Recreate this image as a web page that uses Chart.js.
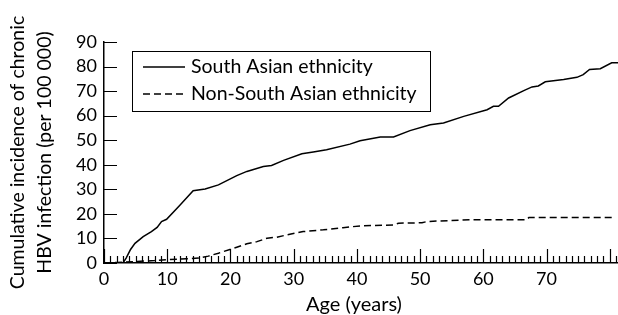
<!DOCTYPE html>
<html>
<head>
<meta charset="utf-8">
<script src="https://cdn.jsdelivr.net/npm/chart.js@4.4.1/dist/chart.umd.min.js"></script>
<style>
html,body{margin:0;padding:0;background:#fff;}
#c{display:block;}
</style>
</head>
<body>
<canvas id="c" width="618" height="315"></canvas>
<script>
// ---- data ----
const seriesLabels = ["South Asian ethnicity", "Non-South Asian ethnicity"];
const southAsianAge = [0,3,3.5,4.2,4.9,6.2,7.5,8.4,9.1,9.9,12,14.1,16,18.1,21,22.6,25.2,26.5,28.4,31.3,33.1,35.2,38.9,40.5,43.7,45.8,48.4,51.6,53.7,56.9,60.6,61.6,62.4,64,66.4,67.7,68.7,69.8,72.7,74.8,75.8,76.8,78.5,80.3,81.3];
const southAsianValue = [0,0,2,5.5,8,10.7,12.8,14.5,16.9,17.8,23.5,29.4,30.1,31.8,35.6,37.3,39.3,39.7,41.8,44.5,45.2,46.1,48.4,49.8,51.3,51.3,53.9,56.3,57,59.7,62.4,63.8,63.8,67.2,70.2,71.7,72.1,73.8,74.7,75.6,76.7,78.8,79.1,81.5,81.5];
const nonSouthAsianAge = [0,2,5,8,10,13,15,16.5,18.1,21,22.6,24.2,25.8,27.3,29.4,31.5,34.7,37.8,40.5,45.8,46.6,50.3,51.1,57.9,66.8,67.2,80.5];
const nonSouthAsianValue = [0,0.2,0.6,1,1.4,1.7,2,2.8,4,6.4,7.8,8.7,10.1,10.5,11.7,12.8,13.5,14.4,15.1,15.5,16.2,16.4,16.9,17.6,17.6,18.5,18.5];
const xTickValues = [0,10,20,30,40,50,60,70];
const yTickValues = [0,10,20,30,40,50,60,70,80,90];
const xTitle = "Age (years)";
const yTitle = ["Cumulative incidence of chronic", "HBV infection (per 100 000)"];

const FONT = "Lato, 'DejaVu Sans', sans-serif";
const toPoints = (xs, ys) => xs.map((x, i) => ({x: x, y: ys[i]}));

const tickMarks = {
  id: 'tickMarks',
  afterDraw(chart) {
    const ctx = chart.ctx, xs = chart.scales.x, ys = chart.scales.y;
    const bottom = chart.chartArea.bottom, left = chart.chartArea.left;
    ctx.save();
    ctx.strokeStyle = '#000';
    ctx.lineWidth = 1.2;
    ctx.beginPath();
    for (let v = 0; v <= Math.floor(xs.max); v++) {
      const px = Math.round(xs.getPixelForValue(v)) + 0.5;
      const len = (v % 10 === 0) ? 14 : 7;
      ctx.moveTo(px, bottom);
      ctx.lineTo(px, bottom - len);
    }
    yTickValues.forEach(v => {
      const py = Math.round(ys.getPixelForValue(v)) + 0.5;
      ctx.moveTo(left, py);
      ctx.lineTo(left + 13, py);
    });
    ctx.stroke();
    // x axis title
    ctx.font = "20px " + FONT;
    ctx.fillStyle = '#000';
    ctx.textAlign = 'center';
    ctx.textBaseline = 'middle';
    ctx.fillText(xTitle, 354, 305);
    ctx.restore();
  }
};

const boxLegend = {
  id: 'boxLegend',
  afterDraw(chart) {
    const ctx = chart.ctx;
    ctx.save();
    ctx.strokeStyle = '#000';
    ctx.lineWidth = 1;
    ctx.strokeRect(132.5, 51.5, 298, 60);
    ctx.font = "19.5px " + FONT;
    ctx.fillStyle = '#000';
    ctx.textBaseline = 'middle';
    chart.data.datasets.forEach((ds, i) => {
      const y = 67 + i * 27;
      ctx.beginPath();
      ctx.setLineDash(ds.borderDash || []);
      ctx.lineWidth = ds.borderWidth;
      ctx.moveTo(143, y);
      ctx.lineTo(185, y);
      ctx.stroke();
      ctx.setLineDash([]);
      ctx.fillText(ds.label, 191, y);
    });
    ctx.restore();
  }
};

new Chart(document.getElementById('c'), {
  type: 'line',
  data: {
    datasets: [
      {label: seriesLabels[0], data: toPoints(southAsianAge, southAsianValue), borderColor: '#000', borderWidth: 1.5, pointRadius: 0, tension: 0, fill: false},
      {label: seriesLabels[1], data: toPoints(nonSouthAsianAge, nonSouthAsianValue), borderColor: '#000', borderWidth: 1.5, borderDash: [7, 4], pointRadius: 0, tension: 0, fill: false}
    ]
  },
  options: {
    responsive: false,
    animation: false,
    devicePixelRatio: 1,
    layout: {padding: {top: 42, right: 0, left: 0, bottom: 0}},
    plugins: {legend: {display: false}, tooltip: {enabled: false}},
    scales: {
      x: {
        type: 'linear', min: 0, max: 81.3,
        afterBuildTicks: s => { s.ticks = xTickValues.map(v => ({value: v})); },
        afterFit: s => { s.height = 52; },
        grid: {display: false, drawTicks: false},
        border: {display: true, color: '#000', width: 1.5},
        ticks: {color: '#000', font: {family: FONT, size: 18}, padding: 5, maxRotation: 0, autoSkip: false},
        title: {display: false}
      },
      y: {
        min: 0, max: 90,
        afterBuildTicks: s => { s.ticks = yTickValues.map(v => ({value: v})); },
        afterFit: s => { s.width = 104; },
        grid: {display: false, drawTicks: false},
        border: {display: true, color: '#000', width: 1.5},
        ticks: {color: '#000', font: {family: FONT, size: 18}, padding: 7, autoSkip: false},
        title: {display: true, text: yTitle, color: '#000', font: {family: FONT, size: 19.5, lineHeight: 1.385}, padding: {top: 4.5, bottom: 0}}
      }
    }
  },
  plugins: [tickMarks, boxLegend]
});
</script>
</body>
</html>
